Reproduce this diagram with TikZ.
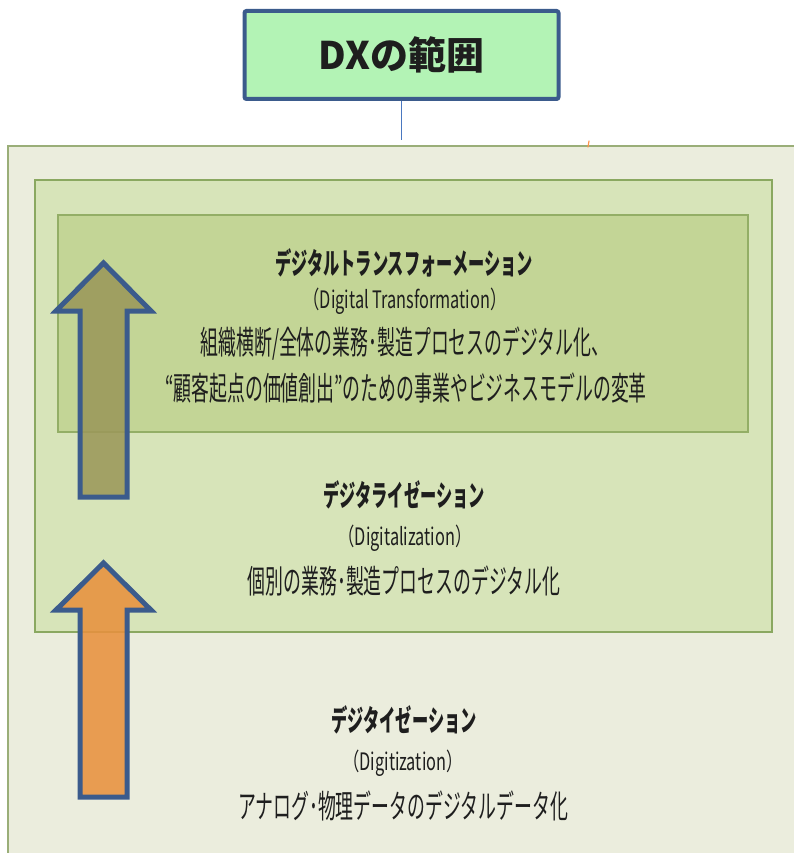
\documentclass[tikz,border=0pt]{standalone}
\usepackage{fontspec}
\newfontfamily\jpc[FakeStretch=0.55]{Noto Sans CJK JP}
\newfontfamily\jpl[FakeStretch=0.68]{Noto Sans CJK JP}
\newfontfamily\jpt{Noto Sans CJK JP}
\definecolor{titlefill}{HTML}{B3F3B5}
\definecolor{navy}{HTML}{3B5B8C}
\definecolor{linkblue}{HTML}{4A78C0}
\definecolor{outerfill}{HTML}{EBEDDD}
\definecolor{outerline}{HTML}{9AAE78}
\definecolor{midfill}{HTML}{D7E4B9}
\definecolor{midline}{HTML}{8AA860}
\definecolor{innerfill}{HTML}{C3D596}
\definecolor{innerline}{HTML}{93AE66}
\definecolor{olive}{HTML}{9B985A}
\definecolor{orangef}{HTML}{E8913E}
\definecolor{txt}{HTML}{1E1E1E}
\tikzset{
  head/.style={font=\jpc\fontsize{29.5}{33}\selectfont\bfseries, text=txt, inner sep=0pt},
  latin/.style={font=\jpl\fontsize{24}{28}\selectfont, text=txt, inner sep=0pt},
  body/.style={font=\jpc\fontsize{32.5}{36}\selectfont, text=txt, inner sep=0pt},
  uparrow/.style={draw=navy, line width=5pt, line join=miter, fill opacity=0.88},
}
\begin{document}
\begin{tikzpicture}[x=1pt,y=-1pt]
\useasboundingbox (0,0) rectangle (794,853);
% outer region
\fill[outerfill] (8,146) rectangle (800,860);
\draw[outerline, line width=2pt] (8,860) -- (8,146) -- (800,146);
% middle region
\draw[midline, fill=midfill, line width=1.5pt] (35,180) rectangle (772,632);
% inner region
\draw[innerline, fill=innerfill, line width=1.5pt] (58,215) rectangle (748,432);
% title
\node[draw=navy, line width=4pt, fill=titlefill, rounded corners=2pt,
      minimum width=314pt, minimum height=88pt, inner sep=0pt,
      font=\jpt\fontsize{38}{42}\selectfont\bfseries, text=txt] (title) at (401.5,55) {DXの範囲};
\coordinate (link) at (401.5,140);
\draw[linkblue, line width=1.6pt] (title.south) -- (link);
% small orange mark
\draw[orange!80!red!70, line width=1.2pt, line cap=round] (589,141) -- (588,147);
% arrows
\draw[uparrow, fill=olive] (103.5,263) -- (151,311) -- (127,311) -- (127,497) -- (80,497) -- (80,311) -- (56,311) -- cycle;
\draw[uparrow, fill=orangef] (103.5,563) -- (151,610) -- (127,610) -- (127,797) -- (80,797) -- (80,610) -- (56,610) -- cycle;
% DX texts
\node[head] (dxh) at (404,263) {デジタルトランスフォーメーション};
\node[latin] (dxl) at (405,301) {（Digital Transformation）};
\node[body] (dx1) at (405,344) {組織横断/全体の業務･製造プロセスのデジタル化、};
\node[body] (dx2) at (406,388) {“顧客起点の価値創出”のための事業やビジネスモデルの変革};
% Digitalization
\node[head] (dzh) at (404,495) {デジタライゼーション};
\node[latin] (dzl) at (405,538) {（Digitalization）};
\node[body] (dz1) at (404,581) {個別の業務･製造プロセスのデジタル化};
% Digitization
\node[head] (dgh) at (404,720) {デジタイゼーション};
\node[latin] (dgl) at (403,763) {（Digitization）};
\node[body] (dg1) at (403,806) {アナログ･物理データのデジタルデータ化};
\end{tikzpicture}
\end{document}
